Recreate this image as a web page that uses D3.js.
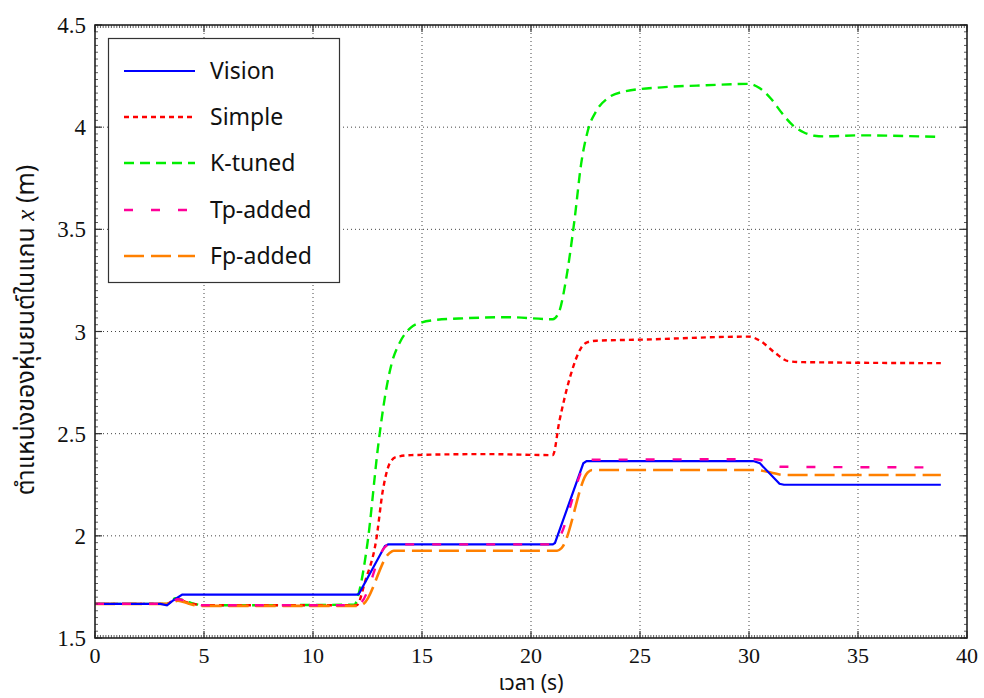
<!DOCTYPE html>
<html><head><meta charset="utf-8">
<script src="https://cdn.jsdelivr.net/npm/d3@7"></script>
<style>body{margin:0;background:#fff}</style>
</head><body>
<script>
// ---- data ----
const seriesNames = ["Vision","Simple","K-tuned","Tp-added","Fp-added"];
const visionT = [0,3.0,3.3,3.6,4.0,8,12.0,12.1,13.3,13.45,21.0,21.1,22.4,22.55,30.2,30.5,31.4,31.6,38.8];
const visionV = [1.667,1.667,1.660,1.685,1.712,1.712,1.712,1.715,1.950,1.958,1.958,1.965,2.355,2.366,2.366,2.355,2.255,2.250,2.250];
const simpleT = [0,3.3,3.7,4.3,5,12.0,12.4,12.9,13.2,13.5,13.8,14.5,18,21.0,21.3,21.8,22.3,22.6,23,25,30.0,30.5,31.2,31.8,32.5,38.8];
const simpleV = [1.667,1.667,1.69,1.672,1.66,1.66,1.78,1.98,2.22,2.35,2.385,2.395,2.40,2.395,2.56,2.78,2.92,2.948,2.955,2.96,2.975,2.955,2.895,2.855,2.85,2.845];
const ktunedT = [0,3.3,3.7,4.3,5,11.9,12.1,12.5,13.0,13.3,13.6,14.0,14.5,15.0,15.5,17,19,21.0,21.3,21.6,22.0,22.3,22.6,23.0,23.5,24.3,26,28,30.0,30.5,31.0,31.5,32.0,32.5,33.0,33.5,35,38.8];
const ktunedV = [1.667,1.667,1.695,1.675,1.66,1.663,1.72,1.965,2.45,2.68,2.84,2.95,3.02,3.045,3.055,3.065,3.07,3.06,3.10,3.25,3.55,3.82,3.98,4.08,4.14,4.175,4.195,4.205,4.212,4.19,4.14,4.07,4.01,3.975,3.958,3.955,3.96,3.952];
const tpT = [0,3.4,3.8,4.5,5,12.0,12.2,13.3,13.5,21.0,21.2,22.5,22.8,30.2,30.6,31.5,38.8];
const tpV = [1.667,1.667,1.69,1.668,1.66,1.66,1.672,1.945,1.958,1.958,1.975,2.35,2.372,2.375,2.37,2.338,2.335];
const fpT = [0,3.4,3.8,4.3,4.8,12.1,12.3,13.5,13.7,21.2,21.4,22.6,22.8,30.3,31.0,31.6,38.8];
const fpV = [1.667,1.667,1.683,1.668,1.657,1.657,1.665,1.915,1.927,1.927,1.94,2.31,2.322,2.322,2.31,2.298,2.298];
const xTicks = [0,5,10,15,20,25,30,35,40];
const yTicks = [1.5,2,2.5,3,3.5,4,4.5];
const xLabel = "เวลา (s)";
const yLabelA = "ตำแหน่งของหุ่นยนต์ในแกน ";
const yLabelB = "x";
const yLabelC = " (m)";

const W = 984, H = 698;
const L = 95, R = 967, T = 25, B = 638;
const svg = d3.select("body").append("svg").attr("width", W).attr("height", H);
const x = d3.scaleLinear().domain([0,40]).range([L,R]);
const y = d3.scaleLinear().domain([1.5,4.5]).range([B,T]);

const styles = [
  {color:"#0000ff", dash:null, w:2.2},
  {color:"#ff0000", dash:"5,4", w:2.4},
  {color:"#00ee00", dash:"10,6", w:2.4},
  {color:"#ff0099", dash:"9,18", w:2.4},
  {color:"#ff8000", dash:"20,7", w:2.6}
];
const data = [
  d3.zip(visionT, visionV),
  d3.zip(simpleT, simpleV),
  d3.zip(ktunedT, ktunedV),
  d3.zip(tpT, tpV),
  d3.zip(fpT, fpV)
];

// grid
const grid = svg.append("g").attr("stroke","#444").attr("stroke-width",1).attr("stroke-dasharray","1,3");
xTicks.slice(1,-1).forEach(t=>grid.append("line").attr("x1",x(t)).attr("x2",x(t)).attr("y1",T).attr("y2",B));
yTicks.slice(1,-1).forEach(t=>grid.append("line").attr("y1",y(t)).attr("y2",y(t)).attr("x1",L).attr("x2",R));

// lines
svg.append("clipPath").attr("id","c").append("rect").attr("x",L).attr("y",T).attr("width",R-L).attr("height",B-T);
const smooth = d3.line().x(d=>x(d[0])).y(d=>y(d[1])).curve(d3.curveMonotoneX);
const straight = d3.line().x(d=>x(d[0])).y(d=>y(d[1]));
[2,1,4,0,3].forEach(i=>{
  svg.append("path").attr("d", i===0 ? straight(data[i]) : smooth(data[i]))
    .attr("fill","none").attr("stroke",styles[i].color).attr("stroke-width",styles[i].w)
    .attr("stroke-dasharray",styles[i].dash).attr("clip-path","url(#c)");
});

// axes frame with inward ticks
const ax = svg.append("g").attr("stroke","#333");
const xMinor = d3.range(0,40.001,0.125);
const yMinor = d3.range(1.5,4.5001,0.5/15);
xMinor.forEach(t=>{
  ax.append("line").attr("x1",x(t)).attr("x2",x(t)).attr("y1",B).attr("y2",B-3).attr("stroke-width",0.8);
  ax.append("line").attr("x1",x(t)).attr("x2",x(t)).attr("y1",T).attr("y2",T+3).attr("stroke-width",0.8);
});
yMinor.forEach(t=>{
  ax.append("line").attr("y1",y(t)).attr("y2",y(t)).attr("x1",L).attr("x2",L+3).attr("stroke-width",0.8);
  ax.append("line").attr("y1",y(t)).attr("y2",y(t)).attr("x1",R).attr("x2",R-3).attr("stroke-width",0.8);
});
xTicks.forEach(t=>{
  ax.append("line").attr("x1",x(t)).attr("x2",x(t)).attr("y1",B).attr("y2",B-7).attr("stroke-width",1.2);
  ax.append("line").attr("x1",x(t)).attr("x2",x(t)).attr("y1",T).attr("y2",T+7).attr("stroke-width",1.2);
});
yTicks.forEach(t=>{
  ax.append("line").attr("y1",y(t)).attr("y2",y(t)).attr("x1",L).attr("x2",L+7).attr("stroke-width",1.2);
  ax.append("line").attr("y1",y(t)).attr("y2",y(t)).attr("x1",R).attr("x2",R-7).attr("stroke-width",1.2);
});
svg.append("rect").attr("x",L).attr("y",T).attr("width",R-L).attr("height",B-T)
  .attr("fill","none").attr("stroke","#222").attr("stroke-width",1.6);

// tick labels
const serif = "Liberation Serif, DejaVu Serif, serif";
svg.append("g").selectAll("text").data(xTicks).join("text")
  .attr("x",d=>x(d)).attr("y",B+25).attr("text-anchor","middle")
  .style("font-family",serif).style("font-size","22px").attr("fill","#111").text(d=>d);
svg.append("g").selectAll("text").data(yTicks).join("text")
  .attr("x",L-9).attr("y",d=>y(d)+8).attr("text-anchor","end")
  .style("font-family",serif).style("font-size","23px").attr("fill","#111").text(d=>d);

// axis labels
const thai = "Noto Sans Thai, Loma, Garuda, Noto Sans, DejaVu Sans, sans-serif";
svg.append("text").attr("x",531).attr("y",690).attr("text-anchor","middle")
  .style("font-family",thai).style("font-size","21px").attr("fill","#111").text(xLabel);
const yl = svg.append("text").attr("transform","translate(34,330) rotate(-90)").attr("text-anchor","middle")
  .style("font-family",thai).style("font-size","25px").attr("fill","#111");
yl.append("tspan").text(yLabelA);
yl.append("tspan").style("font-family",serif).style("font-style","italic").text(yLabelB);
yl.append("tspan").text(yLabelC);

// legend
const lg = svg.append("g");
lg.append("rect").attr("x",108.5).attr("y",38.5).attr("width",231).attr("height",244)
  .attr("fill","#fff").attr("stroke","#333").attr("stroke-width",1.2);
const ly = [71,117,163,210,256];
seriesNames.forEach((n,i)=>{
  lg.append("line").attr("x1",124).attr("x2",195).attr("y1",ly[i]).attr("y2",ly[i])
    .attr("stroke",styles[i].color).attr("stroke-width",styles[i].w).attr("stroke-dasharray",styles[i].dash);
  lg.append("text").attr("x",210).attr("y",ly[i]+8).style("font-family","Noto Sans, Open Sans, sans-serif")
    .style("font-size","23px").attr("fill","#111").text(n);
});
</script>
</body></html>
